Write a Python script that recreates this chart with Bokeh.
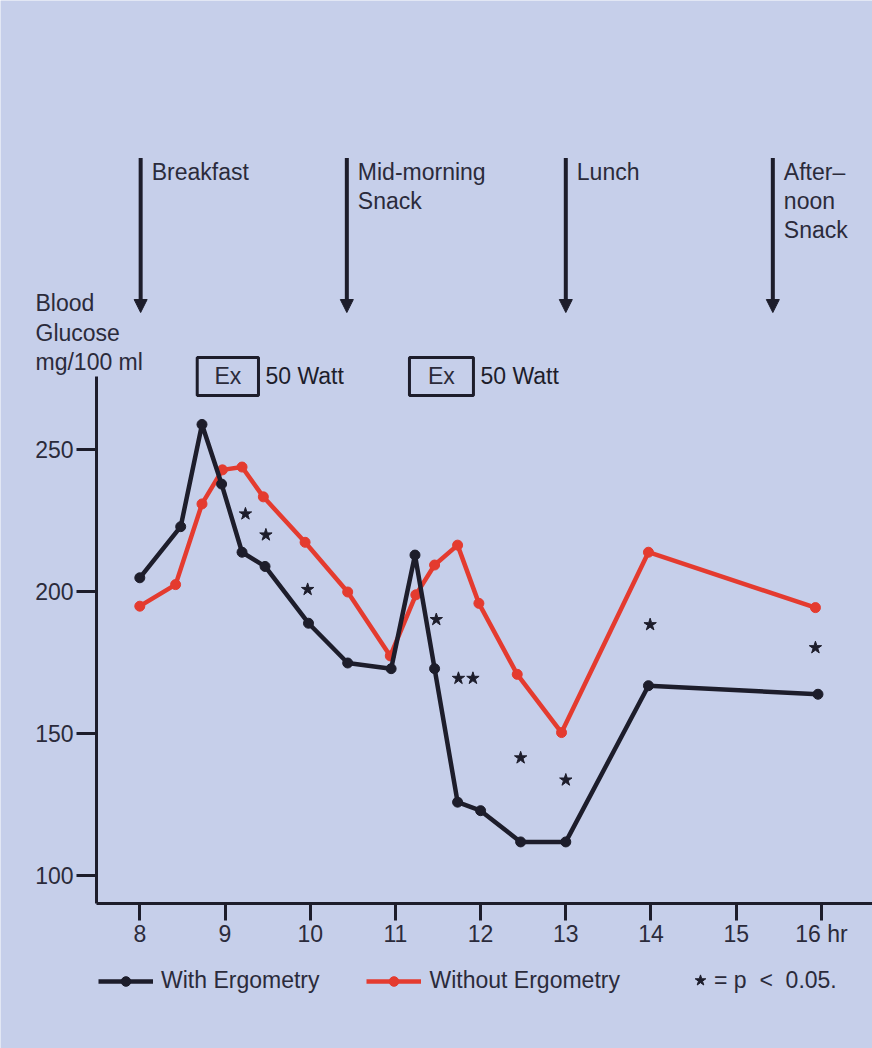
from bokeh.plotting import figure
from bokeh.models import FixedTicker, Label, Arrow, NormalHead, Legend, LegendItem, ColumnDataSource
from bokeh.core.properties import value
from bokeh.embed import file_html
from bokeh.resources import INLINE

# ---------------- data ----------------
hours_with = [8.0, 8.48, 8.73, 8.96, 9.2, 9.47, 9.98, 10.44, 10.95, 11.23, 11.46, 11.73, 12.0, 12.47, 13.0, 13.97, 15.96]
glucose_with = [205, 223, 259, 238, 214, 209, 189, 175, 173, 213, 173, 126, 123, 112, 112, 167, 164]

hours_without = [8.0, 8.42, 8.73, 8.97, 9.2, 9.45, 9.94, 10.44, 10.94, 11.24, 11.46, 11.73, 11.98, 12.43, 12.95, 13.97, 15.93]
glucose_without = [195, 202.6, 231, 243, 244, 233.5, 217.5, 200, 177.5, 199, 209.5, 216.5, 196, 171, 150.5, 214, 194.5]

star_hours = [9.24, 9.48, 9.97, 11.48, 11.74, 11.91, 12.47, 13.0, 13.99, 15.93]
star_glucose = [227.5, 220.1, 200.9, 190.3, 169.6, 169.6, 141.6, 133.8, 188.5, 180.4]

meal_hours = [8.01, 10.43, 13.0, 15.43]
meal_labels = ["Breakfast", "Mid-morning\nSnack", "Lunch", "After\u2013\nnoon\nSnack"]

ex_start = [8.674, 11.165]
ex_end = [9.393, 11.916]
ex_labels = ["Ex", "Ex"]
ex_watt = ["50 Watt", "50 Watt"]

x_ticks = [8, 9, 10, 11, 12, 13, 14, 15, 16]
y_ticks = [100, 150, 200, 250]

# ---------------- style ----------------
BG = "#c6cfea"
INK = "#1d1d2b"
RED = "#e43b2f"
TXT = "#2b2b3b"
FONT = "Liberation Sans"
FS = "23px"
LH = 1.13

X0, X1 = 6.365, 16.5998
Y0, Y1 = 39.26, 408.27
AX_X = 7.492   # where the y axis stands
AX_Y = 90.3    # where the x axis stands

p = figure(width=872, height=1048, x_range=(X0, X1), y_range=(Y0, Y1),
           output_backend="svg", toolbar_location=None,
           min_border_left=0, min_border_right=0, min_border_top=0, min_border_bottom=0)
p.background_fill_color = BG
p.border_fill_color = BG
p.outline_line_color = None
p.grid.visible = False

for ax in (p.xaxis[0], p.yaxis[0]):
    ax.axis_line_color = INK
    ax.axis_line_width = 3
    ax.major_tick_line_color = INK
    ax.major_tick_line_width = 3
    ax.major_tick_in = 0
    ax.minor_tick_line_color = None
    ax.major_label_text_font = FONT
    ax.major_label_text_font_size = FS
    ax.major_label_text_color = TXT

p.xaxis.fixed_location = AX_Y
p.xaxis.bounds = (AX_X, X1)
p.xaxis.ticker = FixedTicker(ticks=x_ticks)
p.xaxis.major_tick_out = 17
p.xaxis.major_label_standoff = 0
p.xaxis.major_label_overrides = {16: "16 hr"}

p.yaxis.fixed_location = AX_X
p.yaxis.bounds = (AX_Y, 276)
p.yaxis.ticker = FixedTicker(ticks=y_ticks)
p.yaxis.major_tick_out = 20
p.yaxis.major_label_standoff = 3

# meal arrows
for h in meal_hours:
    p.add_layout(Arrow(end=NormalHead(size=13, fill_color=INK, line_color=INK, line_width=1),
                       x_start=h, y_start=352.8, x_end=h, y_end=298.4,
                       line_color=INK, line_width=4))
meal_src = ColumnDataSource(dict(x=meal_hours, y=[352.6] * len(meal_hours), t=meal_labels))
p.text(x="x", y="y", text="t", source=meal_src, x_offset=11, text_baseline="top",
       text_align="left", text_font=value(FONT), text_font_size=FS, text_color=TXT,
       text_line_height=LH)

# exercise boxes
p.quad(left=ex_start, right=ex_end, bottom=[269.2] * 2, top=[282.6] * 2,
       fill_color=None, line_color=INK, line_width=3)
p.text(x=[(a + b) / 2 for a, b in zip(ex_start, ex_end)], y=[275.9] * 2, text=ex_labels,
       text_align="center", text_baseline="middle", text_font=value(FONT),
       text_font_size=FS, text_color=TXT)
p.text(x=ex_end, y=[275.9] * 2, text=ex_watt, x_offset=7,
       text_align="left", text_baseline="middle", text_font=value(FONT),
       text_font_size=FS, text_color=INK)

# data
r_rl = p.line(hours_without, glucose_without, line_color=RED, line_width=4.5)
r_rp = p.scatter(hours_without, glucose_without, size=10, fill_color=RED, line_color=RED)
r_bl = p.line(hours_with, glucose_with, line_color=INK, line_width=4.5)
r_bp = p.scatter(hours_with, glucose_with, size=10, fill_color=INK, line_color=INK)
r_st = p.scatter(star_hours, star_glucose, marker="star", size=13, fill_color=INK, line_color=INK)

# y-axis title
p.add_layout(Label(x=6.776, y=306.2, text="Blood\nGlucose\nmg/100 ml", text_baseline="top",
                   text_align="left", text_font=FONT, text_font_size=FS, text_color=TXT,
                   text_line_height=LH))

def style_legend(lg):
    lg.orientation = "horizontal"
    lg.padding = 0
    lg.margin = 0
    lg.glyph_height = 24
    lg.background_fill_alpha = 0
    lg.border_line_color = None
    lg.label_text_font = FONT
    lg.label_text_font_size = FS
    lg.label_text_color = TXT

legend = Legend(items=[LegendItem(label="With Ergometry", renderers=[r_bl, r_bp]),
                       LegendItem(label="Without Ergometry", renderers=[r_rl, r_rp])],
                location=(98, 54))
style_legend(legend)
legend.glyph_width = 55
legend.label_standoff = 8
legend.spacing = 47
p.add_layout(legend)

legend2 = Legend(items=[LegendItem(label="= p  <  0.05.", renderers=[r_st])], location=(686, 54))
style_legend(legend2)
legend2.glyph_width = 28
legend2.glyph_height = 28
legend2.label_standoff = -2
p.add_layout(legend2)

open("out.html", "w").write(file_html(p, INLINE))
